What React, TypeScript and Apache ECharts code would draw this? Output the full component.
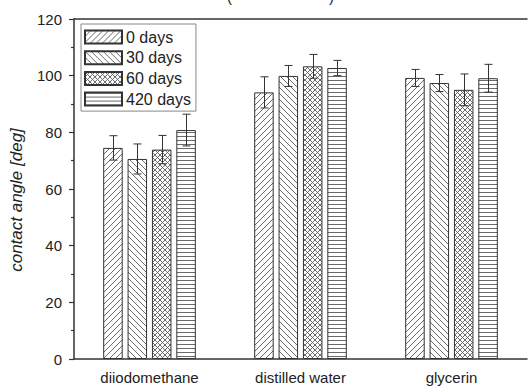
import React, { useEffect, useRef } from "react";
import * as echarts from "echarts";

const categories = ["diiodomethane", "distilled water", "glycerin"];
const seriesNames = ["0 days", "30 days", "60 days", "420 days"];
const values0 = [74.5, 94.1, 99.2];
const values30 = [70.6, 99.9, 97.4];
const values60 = [73.9, 103.3, 95.0];
const values420 = [80.8, 102.7, 99.1];
const err0 = [4.3, 5.5, 3.0];
const err30 = [5.3, 3.7, 3.0];
const err60 = [5.0, 4.2, 5.6];
const err420 = [5.6, 2.7, 4.9];
const yTicks = [0, 20, 40, 60, 80, 100, 120];

const allValues = [values0, values30, values60, values420];
const allErrors = [err0, err30, err60, err420];
const patternKinds = ["fwd", "back", "cross", "horiz"];

function makeTile(kind: string) {
  const s = kind === "horiz" ? 4 : kind === "cross" ? 5 : 6;
  const c = document.createElement("canvas");
  c.width = s;
  c.height = s;
  const ctx = c.getContext("2d")!;
  ctx.fillStyle = "#ffffff";
  ctx.fillRect(0, 0, s, s);
  ctx.strokeStyle = "#5a5a5a";
  ctx.fillStyle = "#6a6a6a";
  ctx.lineWidth = 0.9;
  const fwd = () => {
    ctx.beginPath();
    ctx.moveTo(-1, s + 1);
    ctx.lineTo(s + 1, -1);
    ctx.moveTo(-1, 1);
    ctx.lineTo(1, -1);
    ctx.moveTo(s - 1, s + 1);
    ctx.lineTo(s + 1, s - 1);
    ctx.stroke();
  };
  const back = () => {
    ctx.beginPath();
    ctx.moveTo(-1, -1);
    ctx.lineTo(s + 1, s + 1);
    ctx.moveTo(s - 1, -1);
    ctx.lineTo(s + 1, 1);
    ctx.moveTo(-1, s - 1);
    ctx.lineTo(1, s + 1);
    ctx.stroke();
  };
  if (kind === "fwd") fwd();
  else if (kind === "back") back();
  else if (kind === "cross") {
    fwd();
    back();
  } else {
    ctx.fillRect(0, 0, s, 1);
  }
  return { image: c, repeat: "repeat", imageWidth: s, imageHeight: s } as any;
}

const BAR_W = 19.5;
const BAR_STEP = 24.4;

export default function App() {
  const ref = useRef<HTMLDivElement>(null);
  useEffect(() => {
    if (!ref.current) return;
    const chart = echarts.init(ref.current, null, { renderer: "svg" });
    const font = "'Liberation Sans', Arial, sans-serif";

    const barSeries = seriesNames.map((name, i) => ({
      name,
      type: "bar",
      data: allValues[i],
      barWidth: BAR_W,
      barGap: "25%",
      itemStyle: {
        color: makeTile(patternKinds[i]),
        borderColor: "#333",
        borderWidth: 1,
      },
      z: 2,
    }));

    const errData: number[][] = [];
    allValues.forEach((vals, si) => {
      vals.forEach((v, ci) => {
        errData.push([ci, v, allErrors[si][ci], si]);
      });
    });

    const errSeries = {
      type: "custom",
      name: "err",
      z: 5,
      data: errData,
      renderItem: (params: any, api: any) => {
        const ci = api.value(0);
        const v = api.value(1);
        const e = api.value(2);
        const si = api.value(3);
        const top = api.coord([ci, v + e]);
        const bot = api.coord([ci, v - e]);
        const n = seriesNames.length;
        const offset = -((n - 1) * BAR_STEP) / 2 + si * BAR_STEP;
        const x = Math.round(top[0] + offset) + 0.5;
        const cap = 4;
        const st = { stroke: "#333", lineWidth: 1 };
        return {
          type: "group",
          children: [
            { type: "line", shape: { x1: x, y1: top[1], x2: x, y2: bot[1] }, style: st },
            { type: "line", shape: { x1: x - cap, y1: top[1], x2: x + cap, y2: top[1] }, style: st },
            { type: "line", shape: { x1: x - cap, y1: bot[1], x2: x + cap, y2: bot[1] }, style: st },
          ],
        };
      },
    };

    chart.setOption({
      animation: false,
      backgroundColor: "#ffffff",
      textStyle: { fontFamily: font },
      grid: { left: 72, right: 2, top: 19, bottom: 27, containLabel: false },
      legend: {
        data: seriesNames,
        orient: "vertical",
        left: 81,
        top: 24,
        padding: [5, 5, 4, 3],
        itemGap: 4.7,
        itemWidth: 37,
        itemHeight: 13,
        icon: "rect",
        borderColor: "#888",
        borderWidth: 1,
        textStyle: { fontSize: 16, color: "#222", fontFamily: font, padding: [0, 0, 0, -1] },
      },
      graphic: [
        { type: "text", left: 227, top: -11, style: { text: "(", fontSize: 15, fill: "#222", fontFamily: font } },
        { type: "text", left: 329, top: -11, style: { text: ")", fontSize: 15, fill: "#222", fontFamily: font } },
      ],
      xAxis: [
        {
          type: "category",
          data: categories,
          axisLine: { lineStyle: { color: "#333", width: 1.5 } },
          axisTick: { alignWithLabel: true, length: 5, lineStyle: { color: "#333", width: 1.2 } },
          axisLabel: { fontSize: 15, color: "#222", margin: 11, fontFamily: font },
        },
        {
          type: "category",
          position: "top",
          data: categories,
          axisLine: { lineStyle: { color: "#333", width: 1.5 } },
          axisTick: { show: false },
          axisLabel: { show: false },
        },
      ],
      yAxis: {
        type: "value",
        min: yTicks[0],
        max: yTicks[yTicks.length - 1],
        interval: 20,
        name: "contact angle [deg]",
        nameLocation: "middle",
        nameGap: 49,
        nameTextStyle: {
          fontSize: 17,
          fontStyle: "italic",
          color: "#222",
          fontFamily: font,
          padding: [0, 22, 0, 0],
        },
        axisLine: { show: true, lineStyle: { color: "#333", width: 1.5 } },
        axisTick: { show: true, length: 5, lineStyle: { color: "#333", width: 1.2 } },
        minorTick: { show: true, splitNumber: 2, length: 3, lineStyle: { color: "#333", width: 1.2 } },
        splitLine: { show: false },
        axisLabel: { fontSize: 15, color: "#222", margin: 12, fontFamily: font },
      },
      series: [...barSeries, errSeries],
    } as any);
    return () => chart.dispose();
  }, []);
  return (
    <div
      ref={ref}
      style={{ position: "fixed", left: 0, top: 0, width: 529, height: 386 }}
    />
  );
}
